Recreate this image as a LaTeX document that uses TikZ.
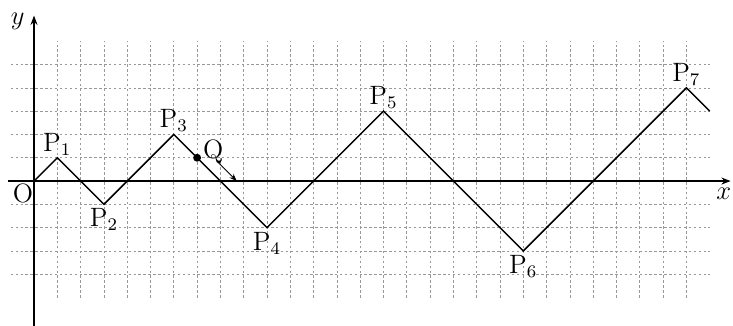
\documentclass[tikz,border=0pt]{standalone}
\usetikzlibrary{arrows.meta,positioning}
\tikzset{
  >={Stealth[length=2mm]},
  gridline/.style={gray!80,dash pattern=on 1.5pt off 1.5pt,line width=0.4pt},
  axis/.style={->,line width=0.7pt},
  zigzag/.style={line width=0.9pt,line join=miter},
  lbl/.style={font=\large,scale=1.35,inner sep=1pt},
}
\begin{document}
\begin{tikzpicture}[x=0.5cm,y=0.5cm]
    \useasboundingbox (-1.46,-6.18) rectangle (30.0,7.77);
    % grid
    \foreach \x in {1,...,28} \draw[gridline] (\x,-5) -- (\x,6);
    \foreach \y in {-4,...,-1,1,2,...,5} \draw[gridline] (-1,\y) -- (29,\y);
    % axes
    \draw[axis] (-1.1,0) -- (29.9,0);
    \draw[axis] (0,-6.2) -- (0,7.1);
    \node[lbl] (xl) at (29.6,-0.55) {$x$};
    \node[lbl] (yl) at (-0.7,6.85) {$y$};
    % points
    \coordinate (O) at (0,0);
    \foreach \n/\px/\py in {1/1/1,2/3/-1,3/6/2,4/10/-2,5/15/3,6/21/-3,7/28/4}
      \coordinate (P\n) at (\px,\py);
    \coordinate (E) at (29,3);
    \draw[zigzag] (O) -- (P1) -- (P2) -- (P3) -- (P4) -- (P5) -- (P6) -- (P7) -- (E);
    \node[lbl,below left=0pt and -1pt] at (O) {O};
    \foreach \n in {1,3,5,7} \node[lbl,above=0pt] at (P\n) {P$_{\n}$};
    \foreach \n in {2,4,6} \node[lbl,below=1pt] at (P\n) {P$_{\n}$};
    % moving point
    \coordinate (Q) at (7,1);
    \fill (Q) circle (0.17);
    \node[lbl,above right=-5pt and 2pt] at (Q) {Q};
    \coordinate (a1) at (7.9,0.8);
    \coordinate (a2) at (8.7,0);
    \draw[->,line width=0.5pt,>={Stealth[length=1.6mm]}] (a1) -- (a2);
\end{tikzpicture}
\end{document}
